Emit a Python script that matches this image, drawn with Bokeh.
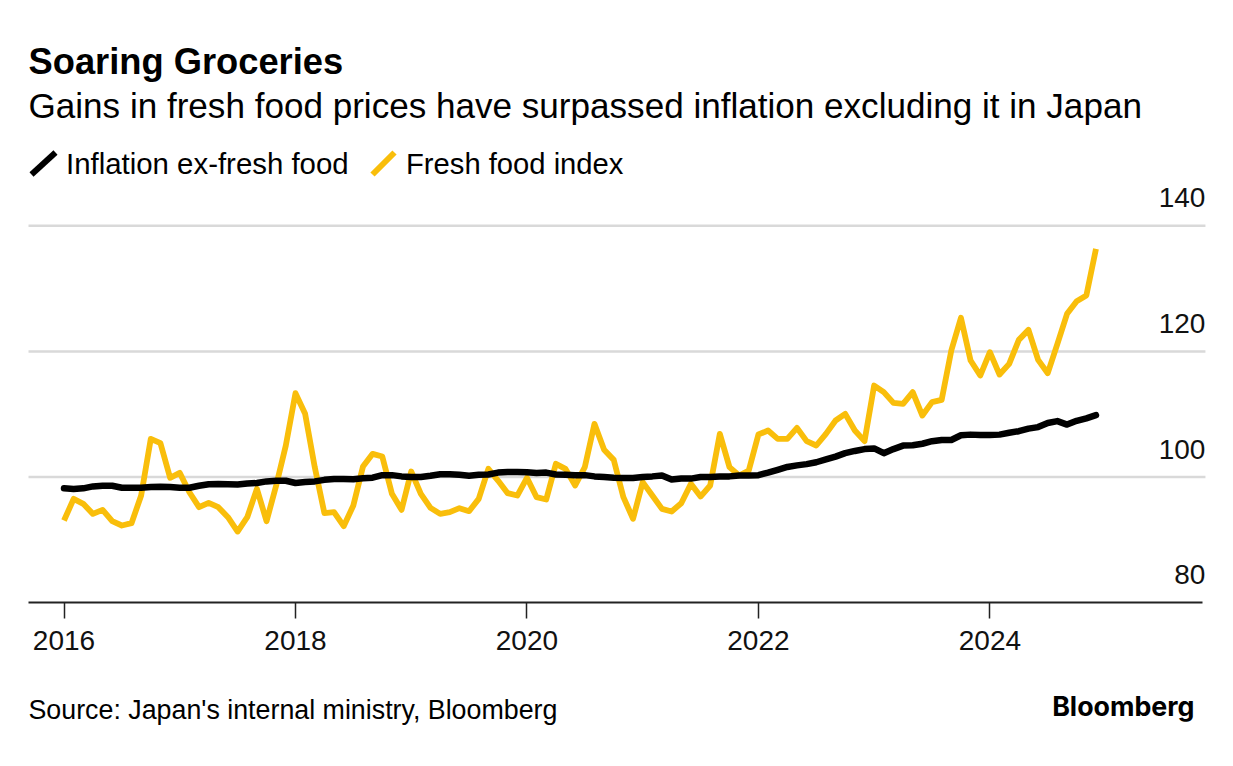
from bokeh.embed import file_html
from bokeh.resources import INLINE
from bokeh.plotting import figure
from bokeh.models import Label, Arrow, LinearAxis, Range1d, FixedTicker

TITLE = "Soaring Groceries"
SUBTITLE = "Gains in fresh food prices have surpassed inflation excluding it in Japan"
SOURCE = "Source: Japan's internal ministry, Bloomberg"
LOGO = "Bloomberg"
SERIES_NAMES = ["Inflation ex-fresh food", "Fresh food index"]
SERIES_COLORS = ["#000000", "#F9BE0B"]

YEAR_TICKS = [0, 24, 48, 72, 96]
YEAR_LABELS = ["2016", "2018", "2020", "2022", "2024"]
Y_TICKS = [80, 100, 120, 140]

inflation_ex_fresh = [
    98.2, 98.1, 98.2, 98.5, 98.6, 98.6, 98.3, 98.3, 98.3, 98.4, 98.45, 98.4,
    98.3, 98.3, 98.6, 98.85, 98.9, 98.85, 98.8, 98.95, 99.05, 99.3, 99.4, 99.4,
    99.05, 99.2, 99.3, 99.55, 99.7, 99.7, 99.65, 99.8, 99.9, 100.3, 100.3, 100.1,
    100.0, 100.0, 100.2, 100.45, 100.45, 100.35, 100.2, 100.35, 100.4, 100.7, 100.8, 100.8,
    100.75, 100.65, 100.7, 100.4, 100.35, 100.3, 100.3, 100.1, 100.0, 99.9, 99.85, 99.85,
    100.0, 100.1, 100.25, 99.6, 99.75, 99.75, 100.0, 100.0, 100.1, 100.1, 100.25, 100.25,
    100.3, 100.7, 101.15, 101.6, 101.85, 102.05, 102.35, 102.8, 103.25, 103.8, 104.15, 104.45,
    104.55, 103.8, 104.45, 105.0, 105.05, 105.3, 105.7, 105.9, 105.9, 106.65, 106.75, 106.7,
    106.7, 106.75, 107.05, 107.3, 107.7, 107.95, 108.6, 108.9, 108.35, 108.95, 109.35, 109.85,
]
fresh_food_index = [
    93.07, 96.52, 95.73, 94.13, 94.77, 92.97, 92.28, 92.65, 97.05, 106.08, 105.39, 99.87,
    100.66, 97.58, 95.2, 95.89, 95.2, 93.6, 91.32, 93.6, 98.12, 92.97, 98.65, 105.02,
    113.35, 110.06, 101.57, 94.24, 94.4, 92.17, 95.46, 101.67, 103.69, 103.26, 97.32, 94.77,
    100.88, 97.32, 95.09, 94.13, 94.4, 95.04, 94.56, 96.52, 101.3, 99.44, 97.43, 97.05,
    99.87, 96.79, 96.42, 102.1, 101.3, 98.65, 101.57, 108.47, 104.33, 102.73, 96.79, 93.34,
    99.18, 97.05, 94.93, 94.51, 95.83, 98.91, 96.89, 98.65, 106.87, 101.57, 100.24, 101.04,
    106.77, 107.4, 106.08, 106.08, 107.83, 105.71, 105.02, 106.87, 109.0, 110.06, 107.4, 105.71,
    114.57, 113.51, 111.81, 111.65, 113.51, 109.79, 111.92, 112.29, 120.14, 125.35, 118.55, 116.16,
    119.88, 116.32, 118.02, 121.84, 123.43, 118.66, 116.53, 121.2, 125.98, 128.0, 128.9, 136.33,
]
months = list(range(len(fresh_food_index)))

W, H = 1217, 750
FONT = "Liberation Sans"
X0, X1, AX1 = -3.68, 118.35, 118.05   # plot span in months (left, gridline end, axis-line end)

p = figure(width=W, height=H, output_backend="svg", toolbar_location=None,
           x_range=Range1d(-6.584, 119.6), y_range=Range1d(56.45, 175.88),
           min_border_left=0, min_border_right=0, min_border_top=0, min_border_bottom=0,
           background_fill_color="white", border_fill_color="white", outline_line_color=None)

# axes
p.yaxis.visible = False
p.grid.visible = False

ax = p.xaxis[0]
ax.fixed_location = Y_TICKS[0]
ax.bounds = (X0, AX1)
ax.ticker = FixedTicker(ticks=YEAR_TICKS)
ax.major_label_overrides = dict(zip(YEAR_TICKS, YEAR_LABELS))
ax.axis_line_color = "#222222"
ax.axis_line_width = 2
ax.major_tick_line_color = "#222222"
ax.major_tick_line_width = 1.5
ax.major_tick_out = 16
ax.major_tick_in = 0
ax.minor_tick_line_color = None
ax.major_label_text_font = FONT
ax.major_label_text_font_size = "28px"
ax.major_label_text_color = "#111111"
ax.major_label_standoff = 12

p.extra_y_ranges = {"labels": Range1d(56.45 - 4.46, 175.88 - 4.46)}
yl = LinearAxis(y_range_name="labels", ticker=FixedTicker(ticks=Y_TICKS),
                fixed_location=X1, axis_line_color=None,
                major_tick_line_color=None, minor_tick_line_color=None,
                major_tick_out=0, major_tick_in=0,
                major_label_text_font=FONT, major_label_text_font_size="28px",
                major_label_text_color="#111111", major_label_standoff=0)
p.add_layout(yl, "left")

grid_values = Y_TICKS[1:]
p.segment(x0=[X0] * len(grid_values), x1=[X1] * len(grid_values), y0=grid_values, y1=grid_values,
          line_color="#D9D9D9", line_width=2.5)

# series
p.line(months, fresh_food_index, line_color=SERIES_COLORS[1], line_width=5.8, line_join="round")
p.line(months, inflation_ex_fresh, line_color=SERIES_COLORS[0], line_width=6.5, line_join="round", line_cap="round")


def text(s, x, y, size, style="normal", font=FONT, align="left"):
    p.add_layout(Label(x=x, y=H - y, x_units="screen", y_units="screen", text=s, text_font=font,
                       text_font_size=size, text_font_style=style, text_color="#000000",
                       text_align=align, text_baseline="middle"))


def swatch(color, x0, y0, x1, y1):
    p.add_layout(Arrow(end=None, x_start=x0, y_start=H - y0, x_end=x1, y_end=H - y1,
                       start_units="screen", end_units="screen",
                       line_color=color, line_width=6))


text(TITLE, 28, 61, "36.3px", "bold")
text(SUBTITLE, 28, 104.5, "35.1px")
swatch(SERIES_COLORS[0], 31, 174, 55, 152)
text(SERIES_NAMES[0], 65.5, 163, "29.4px")
swatch(SERIES_COLORS[1], 372, 174, 394, 152)
text(SERIES_NAMES[1], 405.5, 163, "29.2px")
text(SOURCE, 28, 709, "26.8px")
text(LOGO, 1194, 705, "26.8px", "bold", "Inter", "right")

open("out.html", "w").write(file_html(p, INLINE))
